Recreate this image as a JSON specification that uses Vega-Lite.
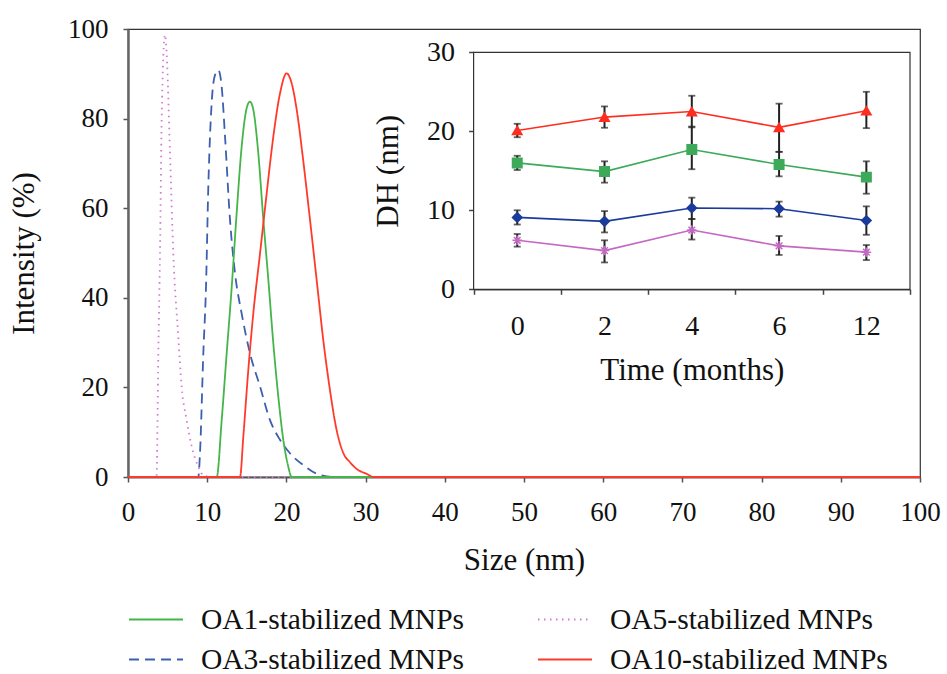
{
  "$schema": "https://vega.github.io/schema/vega-lite/v6.json",
  "width": 792,
  "height": 448,
  "autosize": {"type": "none"},
  "padding": {"left": 128, "top": 29, "right": 27, "bottom": 197},
  "background": "white",
  "config": {
    "font": "Liberation Serif",
    "view": {"stroke": "#333", "strokeWidth": 1.2}
  },
  "datasets": {
    "dls": [
      {"series": "OA3-stabilized MNPs", "size": 0, "intensity": 0},
      {"series": "OA3-stabilized MNPs", "size": 8.88, "intensity": 0},
      {"series": "OA3-stabilized MNPs", "size": 9.09, "intensity": 5.3},
      {"series": "OA3-stabilized MNPs", "size": 9.51, "intensity": 27.6},
      {"series": "OA3-stabilized MNPs", "size": 9.85, "intensity": 42.5},
      {"series": "OA3-stabilized MNPs", "size": 10.14, "intensity": 64.8},
      {"series": "OA3-stabilized MNPs", "size": 10.56, "intensity": 83.4},
      {"series": "OA3-stabilized MNPs", "size": 10.98, "intensity": 89.7},
      {"series": "OA3-stabilized MNPs", "size": 11.4, "intensity": 90.8},
      {"series": "OA3-stabilized MNPs", "size": 11.83, "intensity": 87.1},
      {"series": "OA3-stabilized MNPs", "size": 12.25, "intensity": 76},
      {"series": "OA3-stabilized MNPs", "size": 12.88, "intensity": 57.4},
      {"series": "OA3-stabilized MNPs", "size": 13.51, "intensity": 45.5},
      {"series": "OA3-stabilized MNPs", "size": 14.35, "intensity": 36.5},
      {"series": "OA3-stabilized MNPs", "size": 15.4, "intensity": 27.6},
      {"series": "OA3-stabilized MNPs", "size": 16.67, "intensity": 20.2},
      {"series": "OA3-stabilized MNPs", "size": 17.93, "intensity": 12.7},
      {"series": "OA3-stabilized MNPs", "size": 19.19, "intensity": 8.3},
      {"series": "OA3-stabilized MNPs", "size": 20.45, "intensity": 5.3},
      {"series": "OA3-stabilized MNPs", "size": 22.1, "intensity": 2.7},
      {"series": "OA3-stabilized MNPs", "size": 24.2, "intensity": 0.5},
      {"series": "OA3-stabilized MNPs", "size": 26.3, "intensity": 0},
      {"series": "OA3-stabilized MNPs", "size": 100, "intensity": 0},
      {"series": "OA5-stabilized MNPs", "size": 0, "intensity": 0},
      {"series": "OA5-stabilized MNPs", "size": 3.6, "intensity": 0},
      {"series": "OA5-stabilized MNPs", "size": 3.83, "intensity": 27.6},
      {"series": "OA5-stabilized MNPs", "size": 4.04, "intensity": 49.9},
      {"series": "OA5-stabilized MNPs", "size": 4.25, "intensity": 79.7},
      {"series": "OA5-stabilized MNPs", "size": 4.67, "intensity": 98.7},
      {"series": "OA5-stabilized MNPs", "size": 4.88, "intensity": 94.6},
      {"series": "OA5-stabilized MNPs", "size": 5.3, "intensity": 72.3},
      {"series": "OA5-stabilized MNPs", "size": 5.72, "intensity": 49.9},
      {"series": "OA5-stabilized MNPs", "size": 6.35, "intensity": 31.3},
      {"series": "OA5-stabilized MNPs", "size": 6.77, "intensity": 20.2},
      {"series": "OA5-stabilized MNPs", "size": 7.41, "intensity": 12.7},
      {"series": "OA5-stabilized MNPs", "size": 8.04, "intensity": 6.8},
      {"series": "OA5-stabilized MNPs", "size": 8.88, "intensity": 2.3},
      {"series": "OA5-stabilized MNPs", "size": 9.5, "intensity": 0.4},
      {"series": "OA5-stabilized MNPs", "size": 10.5, "intensity": 0},
      {"series": "OA5-stabilized MNPs", "size": 100, "intensity": 0},
      {"series": "OA1-stabilized MNPs", "size": 0, "intensity": 0},
      {"series": "OA1-stabilized MNPs", "size": 11.2, "intensity": 0},
      {"series": "OA1-stabilized MNPs", "size": 11.83, "intensity": 12.7},
      {"series": "OA1-stabilized MNPs", "size": 12.46, "intensity": 27.6},
      {"series": "OA1-stabilized MNPs", "size": 13.1, "intensity": 42.5},
      {"series": "OA1-stabilized MNPs", "size": 13.72, "intensity": 58.9},
      {"series": "OA1-stabilized MNPs", "size": 14.35, "intensity": 73.7},
      {"series": "OA1-stabilized MNPs", "size": 14.98, "intensity": 82.3},
      {"series": "OA1-stabilized MNPs", "size": 15.4, "intensity": 83.8},
      {"series": "OA1-stabilized MNPs", "size": 15.82, "intensity": 82},
      {"series": "OA1-stabilized MNPs", "size": 16.45, "intensity": 72.3},
      {"series": "OA1-stabilized MNPs", "size": 17.09, "intensity": 57.4},
      {"series": "OA1-stabilized MNPs", "size": 17.72, "intensity": 44},
      {"series": "OA1-stabilized MNPs", "size": 18.35, "intensity": 29.8},
      {"series": "OA1-stabilized MNPs", "size": 18.98, "intensity": 17.9},
      {"series": "OA1-stabilized MNPs", "size": 19.61, "intensity": 8.3},
      {"series": "OA1-stabilized MNPs", "size": 20.24, "intensity": 2.3},
      {"series": "OA1-stabilized MNPs", "size": 20.66, "intensity": 0},
      {"series": "OA1-stabilized MNPs", "size": 100, "intensity": 0},
      {"series": "OA10-stabilized MNPs", "size": 0, "intensity": 0},
      {"series": "OA10-stabilized MNPs", "size": 14.14, "intensity": 0},
      {"series": "OA10-stabilized MNPs", "size": 14.56, "intensity": 9},
      {"series": "OA10-stabilized MNPs", "size": 15.19, "intensity": 23.9},
      {"series": "OA10-stabilized MNPs", "size": 15.82, "intensity": 36.5},
      {"series": "OA10-stabilized MNPs", "size": 16.67, "intensity": 49.9},
      {"series": "OA10-stabilized MNPs", "size": 17.51, "intensity": 63.3},
      {"series": "OA10-stabilized MNPs", "size": 18.35, "intensity": 76},
      {"series": "OA10-stabilized MNPs", "size": 19.19, "intensity": 85.6},
      {"series": "OA10-stabilized MNPs", "size": 20.03, "intensity": 90.1},
      {"series": "OA10-stabilized MNPs", "size": 20.66, "intensity": 87.9},
      {"series": "OA10-stabilized MNPs", "size": 21.3, "intensity": 82},
      {"series": "OA10-stabilized MNPs", "size": 22.1, "intensity": 71},
      {"series": "OA10-stabilized MNPs", "size": 22.98, "intensity": 57.4},
      {"series": "OA10-stabilized MNPs", "size": 23.82, "intensity": 44},
      {"series": "OA10-stabilized MNPs", "size": 24.66, "intensity": 30.5},
      {"series": "OA10-stabilized MNPs", "size": 25.5, "intensity": 19.4},
      {"series": "OA10-stabilized MNPs", "size": 26.35, "intensity": 10.4},
      {"series": "OA10-stabilized MNPs", "size": 27.2, "intensity": 5.3},
      {"series": "OA10-stabilized MNPs", "size": 28.03, "intensity": 3.3},
      {"series": "OA10-stabilized MNPs", "size": 28.87, "intensity": 1.8},
      {"series": "OA10-stabilized MNPs", "size": 30.14, "intensity": 0.7},
      {"series": "OA10-stabilized MNPs", "size": 31, "intensity": 0},
      {"series": "OA10-stabilized MNPs", "size": 100, "intensity": 0}
    ],
    "dh": [
      {"series": "OA10", "month": "0", "dh": 20.1, "lo": 19.25, "hi": 20.95},
      {"series": "OA10", "month": "2", "dh": 21.8, "lo": 20.45, "hi": 23.15},
      {"series": "OA10", "month": "4", "dh": 22.5, "lo": 20.5, "hi": 24.5},
      {"series": "OA10", "month": "6", "dh": 20.5, "lo": 17.4, "hi": 23.5},
      {"series": "OA10", "month": "12", "dh": 22.6, "lo": 20.4, "hi": 25.0},
      {"series": "OA1", "month": "0", "dh": 16.0, "lo": 15.1, "hi": 16.9},
      {"series": "OA1", "month": "2", "dh": 14.9, "lo": 13.5, "hi": 16.2},
      {"series": "OA1", "month": "4", "dh": 17.7, "lo": 15.2, "hi": 20.6},
      {"series": "OA1", "month": "6", "dh": 15.8, "lo": 14.3, "hi": 17.4},
      {"series": "OA1", "month": "12", "dh": 14.2, "lo": 12.1, "hi": 16.2},
      {"series": "OA3", "month": "0", "dh": 9.1, "lo": 8.2, "hi": 10.0},
      {"series": "OA3", "month": "2", "dh": 8.6, "lo": 7.2, "hi": 9.9},
      {"series": "OA3", "month": "4", "dh": 10.3, "lo": 8.9, "hi": 11.6},
      {"series": "OA3", "month": "6", "dh": 10.2, "lo": 9.2, "hi": 11.1},
      {"series": "OA3", "month": "12", "dh": 8.7, "lo": 6.9, "hi": 10.5},
      {"series": "OA5", "month": "0", "dh": 6.2, "lo": 5.4, "hi": 7.0},
      {"series": "OA5", "month": "2", "dh": 4.9, "lo": 3.4, "hi": 6.2},
      {"series": "OA5", "month": "4", "dh": 7.5, "lo": 6.3, "hi": 8.9},
      {"series": "OA5", "month": "6", "dh": 5.5, "lo": 4.35, "hi": 6.75},
      {"series": "OA5", "month": "12", "dh": 4.7, "lo": 3.7, "hi": 5.6}
    ],
    "box": [{"b0": 0, "b1": 1}]
  },
  "layer": [
    {
      "data": {"name": "dls"},
      "mark": {"type": "line", "strokeWidth": 1.8, "interpolate": "monotone"},
      "encoding": {
        "x": {
          "field": "size", "type": "quantitative",
          "scale": {"domain": [0, 100], "nice": false, "zero": false},
          "axis": {
            "orient": "bottom", "title": "Size (nm)",
            "values": [0, 10, 20, 30, 40, 50, 60, 70, 80, 90, 100],
            "grid": false, "labelFlush": false, "labelOverlap": false,
            "tickSize": 5, "tickWidth": 1.5, "tickColor": "#555",
            "domainColor": "#555", "domainWidth": 2,
            "labelFontSize": 27, "labelColor": "#111", "labelPadding": 17,
            "titleFontSize": 31, "titleFontWeight": "normal", "titleColor": "#111", "titlePadding": 20
          }
        },
        "y": {
          "field": "intensity", "type": "quantitative",
          "scale": {"domain": [0, 100], "nice": false},
          "axis": {
            "orient": "left", "title": "Intensity (%)",
            "values": [0, 20, 40, 60, 80, 100],
            "grid": false, "labelOverlap": false,
            "tickSize": 5, "tickWidth": 1.5, "tickColor": "#555",
            "domainColor": "#666", "domainWidth": 2.5,
            "labelFontSize": 27, "labelColor": "#111", "labelPadding": 15,
            "titleFontSize": 31, "titleFontWeight": "normal", "titleColor": "#111", "titlePadding": 27
          }
        },
        "color": {
          "field": "series", "type": "nominal",
          "scale": {
            "domain": ["OA1-stabilized MNPs", "OA3-stabilized MNPs", "OA5-stabilized MNPs", "OA10-stabilized MNPs"],
            "range": ["#44b549", "#3d5fb0", "#d07ad0", "#ff3a2a"]
          },
          "legend": {
            "orient": "none", "legendX": 0, "legendY": 576, "padding": 0,
            "columns": 2, "columnPadding": 72, "rowPadding": 10,
            "title": null, "symbolType": "stroke", "symbolSize": 2916,
            "symbolStrokeWidth": 2, "clipHeight": 29,
            "labelFontSize": 29.5, "labelColor": "#111", "labelOffset": 17, "labelLimit": 400
          }
        },
        "strokeDash": {
          "field": "series", "type": "nominal",
          "scale": {
            "domain": ["OA1-stabilized MNPs", "OA3-stabilized MNPs", "OA5-stabilized MNPs", "OA10-stabilized MNPs"],
            "range": [[1, 0], [10, 6], [1.5, 4.5], [1, 0]]
          },
          "legend": {
            "orient": "none", "legendX": 0, "legendY": 576, "padding": 0,
            "columns": 2, "columnPadding": 72, "rowPadding": 10,
            "title": null, "symbolType": "stroke", "symbolSize": 2916,
            "symbolStrokeWidth": 2, "clipHeight": 29,
            "labelFontSize": 29.5, "labelColor": "#111", "labelOffset": 17, "labelLimit": 400
          }
        }
      }
    },
    {
      "data": {"name": "box"},
      "mark": {"type": "rect", "fill": "white", "stroke": "#333", "strokeWidth": 1.2},
      "encoding": {
        "x": {"field": "b0", "type": "quantitative", "scale": {"domain": [0, 1], "range": [345.6, 782], "nice": false, "zero": false}, "axis": null},
        "x2": {"field": "b1"},
        "y": {"field": "b0", "type": "quantitative", "scale": {"domain": [0, 1], "range": [260.3, 23.3], "nice": false, "zero": false}, "axis": null},
        "y2": {"field": "b1"}
      }
    },
    {
      "data": {"name": "dh"},
      "encoding": {
        "x": {
          "field": "month", "type": "ordinal", "sort": ["0", "2", "4", "6", "12"],
          "scale": {"type": "band", "range": [345.6, 782], "paddingInner": 0, "paddingOuter": 0},
          "axis": {
            "orient": "bottom", "offset": -187.7, "title": "Time (months)", "labelAngle": 0,
            "tickBand": "extent", "grid": false,
            "tickSize": 5, "tickWidth": 1.5, "tickColor": "#444",
            "domainColor": "#444", "domainWidth": 1.5,
            "labelFontSize": 28, "labelColor": "#111", "labelPadding": 18,
            "titleFontSize": 31, "titleFontWeight": "normal", "titleColor": "#111", "titlePadding": 15
          }
        }
      },
      "layer": [
        {
          "mark": {"type": "line", "strokeWidth": 1.6},
          "encoding": {
            "y": {
              "field": "dh", "type": "quantitative",
              "scale": {"domain": [0, 30], "range": [260.3, 23.3], "nice": false, "zero": false},
              "axis": {
                "orient": "left", "offset": -345.6, "title": "DH (nm)",
                "values": [0, 10, 20, 30], "grid": false,
                "tickSize": 5, "tickWidth": 1.5, "tickColor": "#444",
                "domainColor": "#444", "domainWidth": 1.5,
                "labelFontSize": 28, "labelColor": "#111", "labelPadding": 14,
                "titleFontSize": 31, "titleFontWeight": "normal", "titleColor": "#111", "titlePadding": 22
              }
            },
            "color": {
              "field": "series", "type": "nominal",
              "scale": {"domain": ["OA10", "OA1", "OA3", "OA5"], "range": ["#ff2d1f", "#3caa5a", "#1b3b9c", "#c468c4"]},
              "legend": null
            }
          }
        },
        {
          "mark": {"type": "errorbar", "color": "#222", "ticks": {"size": 7, "thickness": 1.8}, "rule": {"strokeWidth": 2}},
          "encoding": {
            "y": {
              "field": "lo", "type": "quantitative",
              "scale": {"domain": [0, 30], "range": [260.3, 23.3], "nice": false, "zero": false},
              "title": "DH (nm)"
            },
            "y2": {"field": "hi"}
          }
        },
        {
          "mark": {"type": "point", "filled": true, "size": 90, "opacity": 1, "strokeWidth": 1.5},
          "encoding": {
            "y": {
              "field": "dh", "type": "quantitative",
              "scale": {"domain": [0, 30], "range": [260.3, 23.3], "nice": false, "zero": false},
              "title": "DH (nm)"
            },
            "color": {
              "field": "series", "type": "nominal",
              "scale": {"domain": ["OA10", "OA1", "OA3", "OA5"], "range": ["#ff2d1f", "#3caa5a", "#1b3b9c", "#c468c4"]},
              "legend": null
            },
            "stroke": {
              "field": "series", "type": "nominal",
              "scale": {"domain": ["OA10", "OA1", "OA3", "OA5"], "range": ["#ff2d1f", "#3caa5a", "#1b3b9c", "#c468c4"]},
              "legend": null
            },
            "shape": {
              "field": "series", "type": "nominal",
              "scale": {"domain": ["OA10", "OA1", "OA3", "OA5"], "range": ["triangle-up", "square", "diamond", "M-1,0L1,0M0,-1L0,1M-0.7,-0.7L0.7,0.7M-0.7,0.7L0.7,-0.7"]},
              "legend": null
            }
          }
        }
      ]
    }
  ],
  "resolve": {
    "scale": {"x": "independent", "y": "independent", "color": "independent", "strokeDash": "independent", "shape": "independent", "stroke": "independent"},
    "axis": {"x": "independent", "y": "independent"}
  }
}
